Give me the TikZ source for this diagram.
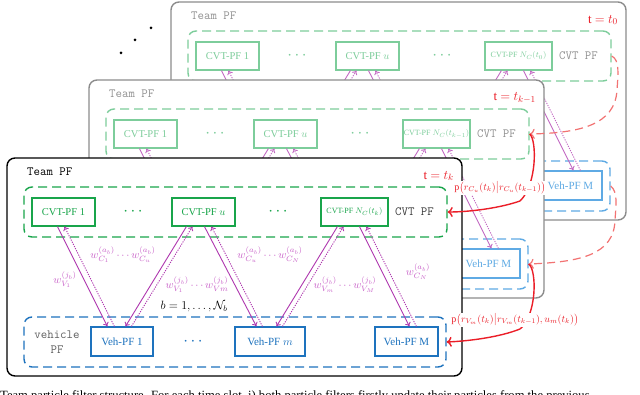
\RequirePackage{fix-cm}
\documentclass[tikz,border=0pt]{standalone}
\usepackage{amsmath}
\usepackage{fontspec}
\setmainfont{Liberation Serif}
\usetikzlibrary{arrows.meta}

\definecolor{fgreen}{RGB}{25,165,75}
\definecolor{bgreen}{RGB}{125,205,155}
\definecolor{fblue}{RGB}{30,115,190}
\definecolor{bblue}{RGB}{95,170,228}
\definecolor{fmag}{RGB}{175,55,175}
\definecolor{bmag}{RGB}{195,105,195}
\definecolor{lmag}{RGB}{200,95,200}
\definecolor{fred}{RGB}{235,30,40}
\definecolor{bred}{RGB}{242,115,115}
\definecolor{bgray}{RGB}{140,140,140}
\definecolor{dgray}{RGB}{60,60,60}
\definecolor{mgray}{RGB}{95,95,95}
\definecolor{lgray}{RGB}{145,145,145}

\tikzset{
 panelbox/.style={draw, line width=1.4pt, rounded corners=8pt, fill=white, inner sep=0pt},
 grpbox/.style={draw, dash pattern=on 9pt off 5pt, line width=1.4pt, rounded corners=8pt, inner sep=0pt},
 pfbox/.style={draw, line width=1.1pt, inner sep=0pt, minimum height=28pt, font=\fontsize{10.5}{12}\selectfont},
 vehbox/.style={pfbox, minimum height=29pt, font=\fontsize{11}{12}\selectfont},
 monotxt/.style={inner sep=0pt, font=\fontsize{12.5}{15}\ttfamily},
 timetxt/.style={inner sep=0pt, text=fred, font=\fontsize{13}{15}\selectfont},
 dotstxt/.style={inner sep=0pt, font=\fontsize{17}{18}\selectfont},
 downarr/.style={draw=mcol, line width=0.9pt, -{To[length=4pt,width=6pt]}},
 uparr/.style={draw=mcol, line width=0.9pt, dash pattern=on 1.2pt off 1.2pt, -{To[length=4pt,width=6pt]}},
 wlbl/.style={inner sep=0pt, text=lmag, font=\fontsize{11}{13}\selectfont},
 redlbl/.style={inner sep=1pt, fill=white, text=fred, font=\fontsize{10}{12}\selectfont},
 redline/.style={draw=fred, line width=1.4pt, -{To[length=5pt,width=10pt]}},
 reddash/.style={draw=bred, line width=1.2pt, dash pattern=on 8pt off 5pt, -{To[length=5pt,width=10pt]}},
 blackdot/.style={circle, fill=black, inner sep=0pt, minimum size=3pt},
}

\newcommand\threedots{$\cdot$\hspace{2.5pt}$\cdot$\hspace{2.5pt}$\cdot$}

\newcommand\drawpanel[4]{%
\begin{scope}[shift={(#2,#3)}]
\node[panelbox, draw=pcol, minimum width=455pt, minimum height=218pt] (#1panel) at (234.5,267) {};
\node[monotxt, text=tcol, anchor=west] (#1team) at (27,172) {Team PF};
\node[timetxt, anchor=east] (#1time) at (454,176) {t $=$ $t_{#4}$};
\node[grpbox, draw=gcol, minimum width=423pt, minimum height=50pt] (#1cgrp) at (235.5,212) {};
\node[pfbox, draw=gcol, text=gcol, minimum width=63pt] (#1c1) at (63.5,212) {CVT-PF 1};
\node[dotstxt, text=gcol] (#1cda) at (133,212) {\threedots};
\node[pfbox, draw=gcol, text=gcol, minimum width=63pt] (#1cu) at (203.5,212) {CVT-PF $u$};
\node[dotstxt, text=gcol] (#1cdb) at (278,212) {\threedots};
\node[pfbox, draw=gcol, text=gcol, minimum width=67pt, font=\fontsize{8}{9}\selectfont] (#1cn) at (354.5,212) {CVT-PF $N_C(t_{#4})$};
\node[monotxt, text=lcol, anchor=west] (#1cvt) at (395,212) {CVT PF};
\node[grpbox, draw=vcol, minimum width=422pt, minimum height=50pt] (#1vgrp) at (235,342) {};
\node[monotxt, text=vlcol, align=center] (#1vlbl) at (57,342) {vehicle\\PF};
\node[vehbox, draw=vcol, text=vcol, minimum width=62pt] (#1v1) at (122,341.5) {Veh-PF 1};
\node[dotstxt, text=vcol] (#1vd) at (193,342) {\threedots};
\node[vehbox, draw=vcol, text=vcol, minimum width=70pt] (#1vm) at (270,341.5) {Veh-PF $m$};
\node[vehbox, draw=vcol, text=vcol, minimum width=63pt] (#1vM) at (406.5,341.5) {Veh-PF M};
% pair 1
\draw[downarr] ([xshift=26pt]#1c1.south west) -- ([xshift=17pt]#1v1.north west);
\draw[uparr] ([xshift=24pt]#1v1.north west) -- ([xshift=33pt]#1c1.south west);
% pair 2
\draw[downarr] ([xshift=15pt]#1cu.south west) -- ([xshift=35pt]#1v1.north west);
\draw[uparr] ([xshift=41pt]#1v1.north west) -- ([xshift=21pt]#1cu.south west);
% pair 3
\draw[downarr] ([xshift=33pt]#1cu.south west) -- ([xshift=22pt]#1vm.north west);
\draw[uparr] ([xshift=28pt]#1vm.north west) -- ([xshift=40pt]#1cu.south west);
% pair 4
\draw[downarr] ([xshift=17pt]#1cn.south west) -- ([xshift=42pt]#1vm.north west);
\draw[uparr] ([xshift=48pt]#1vm.north west) -- ([xshift=23pt]#1cn.south west);
% pair 5
\draw[downarr] ([xshift=39pt]#1cn.south west) -- ([xshift=35pt]#1vM.north west);
\draw[uparr] ([xshift=42pt]#1vM.north west) -- ([xshift=46pt]#1cn.south west);
\end{scope}}

\begin{document}
\begin{tikzpicture}[x=1pt,y=-1pt]
\useasboundingbox (0,0) rectangle (640,395);

\node[blackdot] (dotA) at (151,28) {};
\node[blackdot] (dotB) at (135,40) {};
\node[blackdot] (dotC) at (121,53) {};

% back panels
\colorlet{pcol}{bgray}\colorlet{tcol}{lgray}\colorlet{lcol}{lgray}\colorlet{vlcol}{lgray}
\colorlet{gcol}{bgreen}\colorlet{vcol}{bblue}\colorlet{mcol}{bmag}
\drawpanel{B}{164}{-156}{0}
\drawpanel{M}{82}{-78}{k-1}

\draw[reddash] (Bcgrp.east) .. controls (620,60) and (618,75) .. (617,90)
   .. controls (615,125) and (580,133) .. (Mcgrp.east);
\draw[reddash] (Bvgrp.east) .. controls (618,192) and (616,205) .. (615,220)
   .. controls (614,255) and (580,262) .. (Mvgrp.east);

% front panel
\colorlet{pcol}{black}\colorlet{tcol}{black}\colorlet{lcol}{dgray}\colorlet{vlcol}{mgray}
\colorlet{gcol}{fgreen}\colorlet{vcol}{fblue}\colorlet{mcol}{fmag}
\drawpanel{F}{0}{0}{k}

\node[wlbl] (w1) at (65,280) {$w_{V_1}^{(j_b)}$};
\node[wlbl] (w2) at (123,255) {$w_{C_1}^{(a_b)}\cdots w_{C_u}^{(a_b)}$};
\node[wlbl] (w3) at (197,285) {$w_{V_1}^{(j_b)}\cdots w_{Vm}^{(j_b)}$};
\node[wlbl] (w4) at (270,255) {$w_{C_u}^{(a_b)}\cdots w_{C_N}^{(a_b)}$};
\node[wlbl] (w5) at (345,285) {$w_{V_m}^{(j_b)}\cdots w_{V_M}^{(j_b)}$};
\node[wlbl] (w6) at (418,272) {$w_{C_N}^{(a_b)}$};
\node[inner sep=0pt, font=\fontsize{12}{14}\selectfont] (brange) at (194,307) {$b=1,\ldots,\mathcal{N}_b$};

% red transitions
\draw[redline] (Mcgrp.east) .. controls (537,140) and (537,185) .. (520,201)
   .. controls (500,208) and (470,212) .. (Fcgrp.east);
\draw[redline] (Mvgrp.east) .. controls (537,270) and (537,315) .. (520,329)
   .. controls (500,337) and (470,341) .. (Fvgrp.east);
\node[redlbl] (pc) at (500,188) {p$\bigl(r_{C_u}(t_k)\big|r_{C_u}(t_{k-1})\bigr)$};
\node[redlbl] (pv) at (515,320) {p$\bigl(r_{V_m}(t_k)\big|r_{V_m}(t_{k-1}),u_m(t_k)\bigr)$};

\node[anchor=base west, inner sep=0pt, font=\fontsize{12.6}{14}\selectfont] (caption) at (0,399)
  {Team particle filter structure. For each time slot, i) both particle filters firstly update their particles from the previous};
\end{tikzpicture}
\end{document}
